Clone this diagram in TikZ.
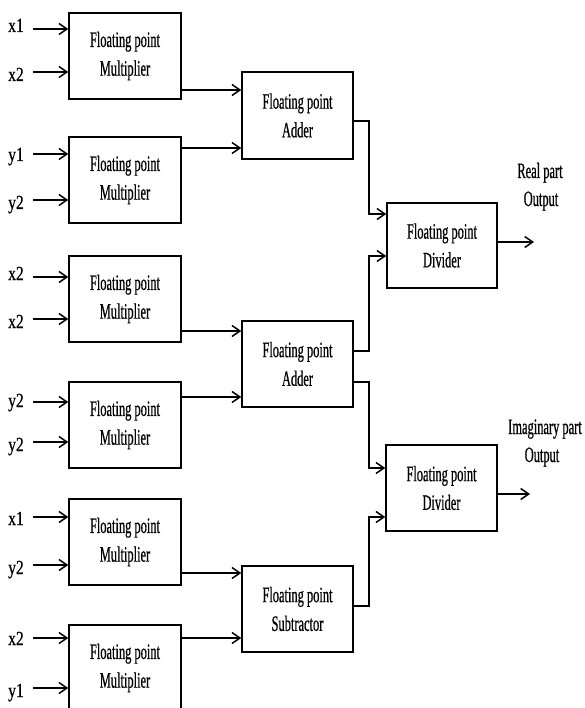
\documentclass[tikz,border=0pt]{standalone}
\usepackage{fontspec}
\setmainfont{Liberation Serif}
\newfontfamily\boxfont{Liberation Serif}[FakeStretch=0.565,FakeBold=0.6]
\newfontfamily\labfont{Liberation Serif}[FakeStretch=0.78,FakeBold=0.5]
\usetikzlibrary{arrows.meta}
\tikzset{
  blk/.style={draw, line width=1.5pt, rectangle, inner sep=0pt, align=center,
    font=\boxfont\fontsize{22}{28.7}\selectfont},
  mulbox/.style={blk, minimum width=112pt, minimum height=86pt},
  opbox/.style={blk, minimum width=111pt, minimum height=86pt},
  lab/.style={inner sep=0pt, anchor=base, font=\labfont\fontsize{20}{22}\selectfont},
  outlab/.style={inner sep=0pt, anchor=base, font=\boxfont\fontsize{22}{28.7}\selectfont},
  arr/.style={line width=1.5pt, -{Straight Barb[length=8pt,width=11pt]}},
  wire/.style={line width=1.5pt}
}
\begin{document}
\begin{tikzpicture}[x=1pt,y=-1pt]
\useasboundingbox (0,0) rectangle (585,708);
\clip (0,0) rectangle (585,708);

% multipliers
\node[mulbox] (m1) at (125,56) {Floating point\\Multiplier};
\node[mulbox] (m2) at (125,180) {Floating point\\Multiplier};
\node[mulbox] (m3) at (125,299) {Floating point\\Multiplier};
\node[mulbox] (m4) at (125,425) {Floating point\\Multiplier};
\node[mulbox] (m5) at (125,542) {Floating point\\Multiplier};
\node[mulbox] (m6) at (125,668) {Floating point\\Multiplier};

% adders / subtractor
\node[opbox, minimum height=87pt] (a1) at (297.5,115.5) {Floating point\\Adder};
\node[opbox] (a2) at (297.5,364) {Floating point\\Adder};
\node[opbox] (s1) at (297.5,609) {Floating point\\Subtractor};

% dividers
\node[opbox, minimum width=110pt, minimum height=85pt] (d1) at (442,245.5) {Floating point\\Divider};
\node[opbox] (d2) at (441.5,488) {Floating point\\Divider};

% input labels
\node[lab] (l1) at (16,32) {x1};
\node[lab] (l2) at (16,81) {x2};
\node[lab] (l3) at (16,161) {y1};
\node[lab] (l4) at (16,209) {y2};
\node[lab] (l5) at (16,280) {x2};
\node[lab] (l6) at (16,328) {x2};
\node[lab] (l7) at (16,407) {y2};
\node[lab] (l8) at (16,451) {y2};
\node[lab] (l9) at (16,525) {x1};
\node[lab] (l10) at (16,574) {y2};
\node[lab] (l11) at (16,645) {x2};
\node[lab] (l12) at (16,697) {y1};

% input starts
\coordinate (i1) at (33,29);
\coordinate (i2) at (33,72);
\coordinate (i3) at (33,154);
\coordinate (i4) at (33,200);
\coordinate (i5) at (33,277);
\coordinate (i6) at (33,319);
\coordinate (i7) at (33,402);
\coordinate (i8) at (33,442);
\coordinate (i9) at (33,517);
\coordinate (i10) at (33,565);
\coordinate (i11) at (33,638);
\coordinate (i12) at (33,688);
\draw[arr] (i1) -- (i1 -| m1.west);
\draw[arr] (i2) -- (i2 -| m1.west);
\draw[arr] (i3) -- (i3 -| m2.west);
\draw[arr] (i4) -- (i4 -| m2.west);
\draw[arr] (i5) -- (i5 -| m3.west);
\draw[arr] (i6) -- (i6 -| m3.west);
\draw[arr] (i7) -- (i7 -| m4.west);
\draw[arr] (i8) -- (i8 -| m4.west);
\draw[arr] (i9) -- (i9 -| m5.west);
\draw[arr] (i10) -- (i10 -| m5.west);
\draw[arr] (i11) -- (i11 -| m6.west);
\draw[arr] (i12) -- (i12 -| m6.west);

% multiplier outputs
\coordinate (o1) at (m1.east |- 0,90);
\coordinate (o2) at (m2.east |- 0,148);
\coordinate (o3) at (m3.east |- 0,331);
\coordinate (o4) at (m4.east |- 0,397);
\coordinate (o5) at (m5.east |- 0,573);
\coordinate (o6) at (m6.east |- 0,638);
\draw[arr] (o1) -- (o1 -| a1.west);
\draw[arr] (o2) -- (o2 -| a1.west);
\draw[arr] (o3) -- (o3 -| a2.west);
\draw[arr] (o4) -- (o4 -| a2.west);
\draw[arr] (o5) -- (o5 -| s1.west);
\draw[arr] (o6) -- (o6 -| s1.west);

% second stage to dividers
\coordinate (p1) at (a1.east |- 0,121);
\coordinate (p2) at (a2.east |- 0,351);
\coordinate (p3) at (a2.east |- 0,382);
\coordinate (p4) at (s1.east |- 0,606);
\draw[arr] (p1) -- (369,121) -- (369,214) -- (d1.west |- 0,214);
\draw[arr] (p2) -- (369,351) -- (369,256) -- (d1.west |- 0,256);
\draw[arr] (p3) -- (369,382) -- (369,468) -- (d2.west |- 0,468);
\draw[arr] (p4) -- (369,606) -- (369,517) -- (d2.west |- 0,517);

% outputs
\coordinate (q1) at (534,242);
\coordinate (q2) at (530,494);
\draw[arr] (d1.east |- q1) -- (q1);
\draw[arr] (d2.east |- q2) -- (q2);

\node[outlab] (r1) at (540,178) {Real part};
\node[outlab] (r2) at (541,206) {Output};
\node[outlab] (g1) at (545,434) {Imaginary part};
\node[outlab] (g2) at (542,462) {Output};
\end{tikzpicture}
\end{document}
